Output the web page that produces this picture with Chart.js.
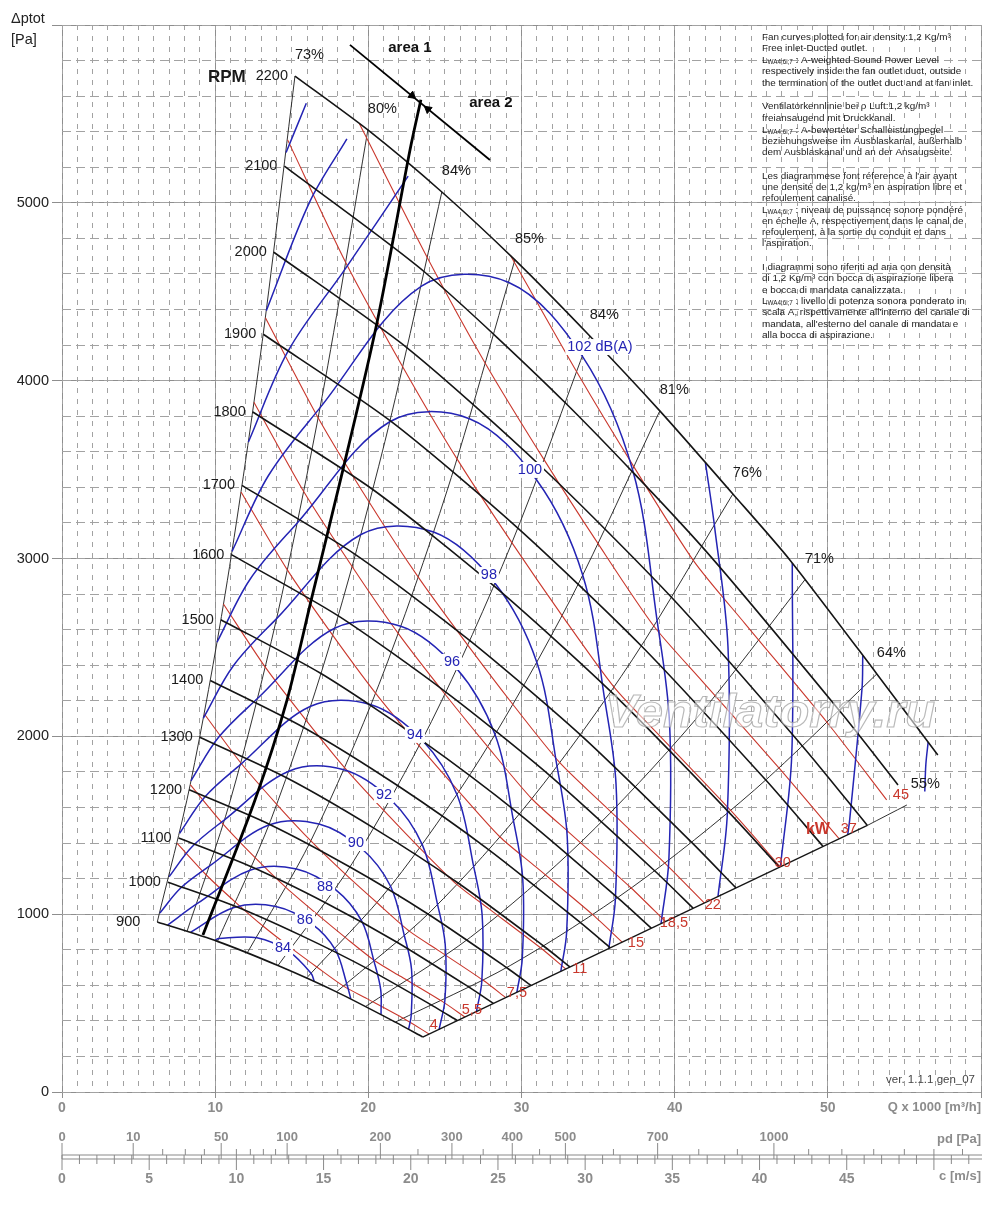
<!DOCTYPE html>
<html>
<head>
<meta charset="utf-8">
<title>Fan curves</title>
<script src="https://cdn.jsdelivr.net/npm/chart.js@4.4.1/dist/chart.umd.min.js"></script>
<style>
html,body{margin:0;padding:0;background:#ffffff;}
#wrap{position:relative;width:1000px;height:1219px;}
canvas{display:block;}
</style>
</head>
<body>
<div id="wrap"><canvas id="chart" width="1000" height="1219"></canvas></div>
<script>
// ---------- axis ranges and tick labels ----------
const qRange = [0, 60];          // Q x 1000 m3/h
const pRange = [0, 6000];        // Pa
const vRange = [0, 52.7];        // m/s
const pdTicks = [0, 10, 50, 100, 200, 300, 400, 500, 700, 1000];
const pdMinorTicks = [20, 30, 40, 60, 70, 80, 90, 150, 250, 350, 450, 600, 800, 900, 1100, 1200, 1300, 1400, 1500, 1600];
const vTicks = [0, 5, 10, 15, 20, 25, 30, 35, 40, 45];

// ---------- RPM curves [Q, dp] ----------
const rpmValues = [900, 1000, 1100, 1200, 1300, 1400, 1500, 1600, 1700, 1800, 1900, 2000, 2100, 2200];
const rpm900  = [[6.22,956],[10.15,847],[14.10,711],[17.92,563],[21.76,393],[23.55,309]];
const rpm1000 = [[6.91,1180],[11.27,1046],[15.66,878],[19.91,695],[24.18,486],[25.80,402]];
const rpm1100 = [[7.61,1428],[12.40,1265],[17.23,1063],[21.90,841],[26.60,588],[28.16,498]];
const rpm1200 = [[8.30,1700],[13.53,1506],[18.80,1265],[23.89,1001],[29.02,700],[30.62,599]];
const rpm1300 = [[8.99,1995],[14.66,1767],[20.36,1484],[25.88,1174],[31.44,821],[33.17,703]];
const rpm1400 = [[9.68,2314],[15.78,2050],[21.93,1722],[27.87,1362],[33.85,952],[35.79,811]];
const rpm1500 = [[10.37,2656],[16.91,2353],[23.50,1976],[29.86,1563],[36.27,1093],[38.48,921]];
const rpm1600 = [[11.06,3022],[18.04,2677],[25.06,2249],[31.85,1779],[38.69,1244],[41.21,1033]];
const rpm1700 = [[11.75,3411],[19.16,3022],[26.63,2538],[33.85,2008],[41.11,1404],[44.00,1148]];
const rpm1800 = [[12.45,3824],[20.29,3388],[28.20,2846],[35.84,2251],[43.53,1574],[46.83,1264]];
const rpm1900 = [[13.14,4261],[21.42,3775],[29.76,3171],[37.83,2508],[45.95,1754],[49.69,1381]];
const rpm2000 = [[13.83,4722],[22.55,4183],[31.33,3513],[39.82,2779],[48.36,1943],[52.58,1499]];
const rpm2100 = [[14.52,5206],[23.67,4611],[32.89,3873],[41.81,3064],[50.78,2142],[54.58,1727]];
const rpm2200 = [[15.21,5713],[19.97,5410],[24.80,5061],[29.57,4679],[34.46,4251],[39.03,3830],[43.80,3363],[47.52,2992],[53.20,2351],[57.18,1895]];
const rpmCurves = [rpm900, rpm1000, rpm1100, rpm1200, rpm1300, rpm1400, rpm1500, rpm1600, rpm1700, rpm1800, rpm1900, rpm2000, rpm2100, rpm2200];

// ---------- efficiency lines ----------
const effLabels = ['73%', '80%', '84%', '85%', '84%', '81%', '76%', '71%', '64%', '55%'];
const eff73  = [[6.22,956],[8.37,1728],[10.65,2799],[12.93,4128],[15.21,5713]];
const eff80  = [[8.17,905],[10.98,1637],[13.98,2651],[16.98,3909],[19.97,5410]];
const eff84a = [[10.15,847],[13.64,1531],[17.36,2480],[21.08,3657],[24.80,5061]];
const eff85  = [[12.10,783],[16.26,1415],[20.70,2293],[25.14,3381],[29.57,4679]];
const eff84b = [[14.10,711],[18.95,1286],[24.12,2083],[29.29,3071],[34.46,4251]];
const eff81  = [[15.97,641],[21.47,1159],[27.32,1877],[33.18,2767],[39.03,3830]];
const eff76  = [[17.92,563],[24.09,1017],[30.66,1648],[37.23,2430],[43.80,3363]];
const eff71  = [[19.84,482],[26.68,871],[33.95,1411],[41.23,2081],[48.50,2880]];
const eff64  = [[21.76,393],[29.26,711],[37.24,1152],[45.22,1699],[53.20,2351]];
const eff55  = [[52.58,1499],[55.16,1614]];
const effCurves = [eff73, eff80, eff84a, eff85, eff84b, eff81, eff76, eff71, eff64, eff55];
const boundary = [[23.55,309],[52.58,1499]];

// ---------- power lines (kW) ----------
const kwLabels = ['4', '5,5', '7,5', '11', '15', '18,5', '22', '30', '37', '45'];
const kw4   = [[7.52,1398],[9.47,1216],[11.37,1064],[13.18,929],[15.01,806],[16.68,700],[18.41,594],[19.91,525],[22.31,413],[23.97,326]];
const kw5_5 = [[8.37,1728],[10.53,1505],[12.64,1315],[14.65,1148],[16.69,997],[18.55,865],[20.47,735],[22.13,649],[24.80,511],[26.30,422]];
const kw7_5 = [[9.28,2127],[11.68,1850],[14.02,1618],[16.25,1412],[18.50,1225],[20.57,1064],[22.70,903],[24.54,798],[27.50,628],[28.96,531]];
const kw11  = [[10.54,2744],[13.27,2389],[15.94,2090],[18.46,1823],[21.02,1582],[23.36,1372],[25.79,1166],[27.88,1030],[31.24,811],[32.88,692]];
const kw15  = [[11.69,3374],[14.71,2936],[17.67,2569],[20.47,2243],[23.32,1946],[25.92,1689],[28.60,1434],[30.92,1267],[34.65,997],[36.57,843]];
const kw18_5= [[12.53,3879],[15.78,3377],[18.95,2954],[21.95,2579],[25.00,2238],[27.79,1942],[30.67,1649],[33.15,1456],[37.16,1147],[39.39,959]];
const kw22  = [[13.28,4354],[16.72,3792],[20.07,3315],[23.26,2895],[26.49,2513],[29.44,2179],[32.50,1852],[35.12,1634],[39.36,1287],[41.93,1063]];
const kw30  = [[14.73,5354],[18.54,4662],[22.26,4076],[25.79,3560],[29.37,3089],[32.65,2679],[36.04,2277],[38.95,2010],[43.66,1583],[46.89,1267]];
const kw37  = [[19.42,5445],[23.87,4689],[27.66,4094],[31.50,3552],[35.01,3082],[38.65,2619],[41.78,2312],[46.82,1821],[50.74,1424]];
const kw45  = [[29.30,4701],[33.62,4047],[37.37,3511],[41.26,2984],[44.59,2634],[49.98,2075],[53.84,1643]];
const kwCurves = [kw4, kw5_5, kw7_5, kw11, kw15, kw18_5, kw22, kw30, kw37, kw45];
const kwLabelAt = [[24.28,377],[26.76,461],[29.70,557],[33.81,692],[37.47,838],[39.95,950],[42.49,1052],[47.06,1288],[51.37,1479],[54.77,1670]];
const kwUnitAt = [49.35,1473];

// ---------- sound power lines dB(A) ----------
const dbLabels = ['84', '86', '88', '90', '92', '94', '96', '98', '100', '102 dB(A)'];
const db84  = [[9.98,852],[10.24,863],[12.73,867],[14.84,788],[16.27,666],[16.47,621]];
const db86  = [[8.40,899],[11.23,1038],[13.96,1043],[16.27,948],[17.84,800],[18.60,606],[18.85,525]];
const db88  = [[6.90,939],[8.84,1060],[12.32,1248],[15.31,1254],[17.84,1139],[19.56,962],[20.39,729],[20.81,574],[20.83,436]];
const db90  = [[6.39,1007],[7.75,1147],[9.69,1274],[13.50,1501],[16.78,1507],[19.56,1369],[21.45,1157],[22.36,876],[22.82,690],[22.80,432],[22.63,353]];
const db92  = [[7.00,1211],[8.49,1379],[10.63,1532],[14.81,1804],[18.40,1812],[21.44,1646],[23.52,1391],[24.52,1054],[25.02,829],[25.00,519],[24.62,351]];
const db94  = [[7.68,1455],[9.31,1658],[11.65,1841],[16.23,2169],[20.18,2178],[23.51,1979],[25.79,1672],[26.88,1267],[27.43,997],[27.41,624],[27.06,453]];
const db96  = [[8.42,1750],[10.21,1993],[12.78,2214],[17.80,2608],[22.12,2619],[25.78,2380],[28.27,2010],[29.48,1523],[30.08,1199],[30.05,750],[29.70,561]];
const db98  = [[9.23,2103],[11.19,2397],[14.01,2662],[19.52,3135],[24.26,3149],[28.27,2861],[31.00,2416],[32.32,1831],[32.98,1442],[32.95,902],[32.57,679]];
const db100 = [[10.12,2529],[12.27,2882],[15.36,3200],[21.40,3769],[26.60,3786],[31.00,3440],[34.00,2906],[35.44,2202],[36.17,1734],[36.13,1085],[35.70,807]];
const db102 = [[11.10,3040],[13.46,3464],[16.84,3847],[23.47,4531],[29.17,4552],[33.99,4135],[37.27,3493],[38.86,2647],[39.66,2084],[39.62,1304],[39.11,947]];
const db104a = [[12.17,3655],[14.76,4166],[18.47,4626],[22.60,5150]];
const db104b = [[42.01,3538],[42.60,3182],[43.48,2505],[43.44,1568],[42.83,1100]];
const db106a = [[13.34,4394],[16.18,5007],[18.60,5360]];
const db106b = [[47.68,2974],[47.64,1885],[46.91,1270]];
const db108a = [[14.63,5283],[15.95,5560]];
const db108b = [[52.28,2455],[52.23,2266],[51.43,1533],[51.30,1447]];
const db110  = [[56.55,1967],[56.40,1843],[56.33,1690]];
const dbCurves = [db84, db86, db88, db90, db92, db94, db96, db98, db100, db102, db104a, db104b, db106a, db106b, db108a, db108b, db110];
const dbLabelAt = [[14.43,810],[15.86,967],[17.17,1153],[19.19,1400],[21.02,1670],[23.04,2008],[25.46,2418],[27.87,2907],[30.55,3498],[35.12,4189]];

// ---------- area 1 / area 2 ----------
const areaDivider = [[9.20,883],[12.60,1642],[14.69,2204],[16.32,2784],[18.34,3498],[20.56,4324],[22.72,5297],[23.43,5580]];
const areaLine = [[18.80,5888],[27.94,5241]];
const areaArrows = [[22.85,5603],[23.89,5527]];
const areaArrowAngles = [129, 309];

// ---------- text block ----------
const notes = [
  ['Fan curves plotted for air density:1,2 Kg/m³', 37],
  ['Free inlet-Ducted outlet.', 48],
  ['§ : A-weighted Sound Power Level', 60],
  ['respectively inside the fan outlet duct, outside', 71],
  ['the termination of the outlet duct and at fan inlet.', 83],
  ['Ventilatorkennlinie bei ρ Luft:1,2 kg/m³', 106],
  ['freiansaugend mit Druckkanal.', 118],
  ['§ : A-bewerteter Schalleistungpegel', 130],
  ['beziehungsweise im Ausblaskanal, außerhalb', 141],
  ['dem Ausblaskanal und an der Ansaugseite.', 152],
  ['Les diagrammese font réference à l\'air ayant', 176],
  ['une densité de 1,2 kg/m³ en aspiration libre et', 187],
  ['refoulement canalisé.', 198],
  ['§ : niveau de puissance sonore pondéré', 210],
  ['en échelle A, respectivement dans le canal de', 221],
  ['refoulement, à la sortie du conduit et dans', 232],
  ['l\'aspiration.', 243],
  ['I diagrammi sono riferiti ad aria con densità', 267],
  ['di 1,2 Kg/m³ con bocca di aspirazione libera', 278],
  ['e bocca di mandata canalizzata.', 290],
  ['§ : livello di potenza sonora ponderato in', 301],
  ['scala A, rispettivamente all\'interno del canale di', 312],
  ['mandata, all\'esterno del canale di mandata e', 324],
  ['alla bocca di aspirazione.', 335]
];

// ---------- styles ----------
const FONT = '"Liberation Sans", Arial, Helvetica, sans-serif';
const C_BLACK = '#151515', C_EFF = '#262626', C_RED = '#c9372c', C_BLUE = '#2424b4';
const C_GRID = '#8e8e8e', C_MINOR = '#a2a2a2', C_AXIS = '#8c8c8c';

function pts(a) { return a.map(p => ({ x: p[0], y: p[1] })); }
function line(a, color, width, order, tension) {
  return { data: pts(a), showLine: true, borderColor: color, backgroundColor: color,
    borderWidth: width, pointRadius: 0, pointHoverRadius: 0, tension: tension, order: order, fill: false };
}

const datasets = [];
rpmCurves.forEach(c => datasets.push(line(c, C_BLACK, 1.6, 1, 0.25)));
datasets.push(line(boundary, C_BLACK, 1.3, 1, 0));
dbCurves.forEach(c => datasets.push(line(c, C_BLUE, 1.5, 2, 0.35)));
kwCurves.forEach(c => datasets.push(line(c, C_RED, 1.1, 3, 0.25)));
effCurves.forEach(c => datasets.push(line(c, C_EFF, 0.95, 4, 0.3)));
datasets.push(line(areaDivider, '#000', 2.8, 0, 0.3));
datasets.push(line(areaLine, '#000', 1.8, 0, 0));
datasets.push({ data: pts(areaArrows), showLine: false, pointStyle: 'triangle', pointRadius: 4.5,
  rotation: areaArrowAngles, backgroundColor: '#000', borderColor: '#000', borderWidth: 1, order: 0 });

function lineSeg(ctx, x1, y1, x2, y2) { ctx.beginPath(); ctx.moveTo(x1, y1); ctx.lineTo(x2, y2); ctx.stroke(); }

const overlay = {
  id: 'overlay',
  afterDatasetsDraw(chart) {
    const ctx = chart.ctx, ca = chart.chartArea;
    const xs = chart.scales.x, ys = chart.scales.y;
    const X = v => xs.getPixelForValue(v), Y = v => ys.getPixelForValue(v);
    ctx.save();

    // watermark
    ctx.font = 'italic bold 46px ' + FONT;
    const wm = 'Ventilatorry.ru';
    const ww = ctx.measureText(wm).width;
    ctx.save();
    ctx.translate(ca.left + 543, ca.top + 702);
    ctx.scale(330 / ww, 1);
    ctx.textAlign = 'left'; ctx.textBaseline = 'alphabetic';
    ctx.fillStyle = 'rgba(255,255,255,0.55)';
    ctx.fillText(wm, 0, 0);
    ctx.strokeStyle = 'rgba(160,160,160,0.75)';
    ctx.lineWidth = 1.1;
    ctx.strokeText(wm, 0, 0);
    ctx.restore();

    ctx.textBaseline = 'middle';
    // RPM labels
    ctx.font = '14.5px ' + FONT;
    ctx.fillStyle = '#1a1a1a';
    ctx.textAlign = 'right';
    rpmCurves.forEach((c, i) => {
      const gap = rpmValues[i] === 900 ? 17 : 7;
      ctx.fillText(String(rpmValues[i]), X(c[0][0]) - gap, Y(c[0][1]));
    });
    const lw2200 = ctx.measureText('2200').width;
    ctx.font = 'bold 17px ' + FONT;
    ctx.fillText('RPM', X(rpm2200[0][0]) - 7 - lw2200 - 10, Y(rpm2200[0][1]) + 1);

    // efficiency labels
    ctx.font = '14.5px ' + FONT;
    ctx.textAlign = 'left';
    effCurves.forEach((c, i) => {
      const e = c[c.length - 1];
      const dx = i === effCurves.length - 1 ? 4 : 0;
      ctx.fillText(effLabels[i], X(e[0]) + dx, Y(e[1]) - 21);
    });

    // kW labels
    ctx.fillStyle = C_RED;
    ctx.textAlign = 'center';
    kwLabelAt.forEach((p, i) => ctx.fillText(kwLabels[i], X(p[0]), Y(p[1])));
    ctx.font = 'bold 16px ' + FONT;
    ctx.fillText('kW', X(kwUnitAt[0]), Y(kwUnitAt[1]));

    // dB labels with white gap
    ctx.font = '14.5px ' + FONT;
    dbLabelAt.forEach((p, i) => {
      const w = ctx.measureText(dbLabels[i]).width;
      const cx = X(p[0]), cy = Y(p[1]);
      ctx.fillStyle = '#ffffff';
      ctx.fillRect(cx - w / 2 - 2, cy - 8, w + 4, 16);
      ctx.fillStyle = C_BLUE;
      ctx.fillText(dbLabels[i], cx, cy);
    });

    // area labels
    ctx.fillStyle = '#111';
    ctx.font = 'bold 15px ' + FONT;
    ctx.fillText('area 1', X(areaLine[0][0]) + 60, Y(areaLine[0][1]) + 3);
    ctx.fillText('area 2', X(areaLine[1][0]) + 1, Y(areaLine[1][1]) - 57);

    // text block
    ctx.textAlign = 'left';
    ctx.fillStyle = '#222';
    const tx = ca.left + 700;
    notes.forEach(n => {
      const ty = ca.top + n[1] - 25;
      ctx.font = '9.9px ' + FONT;
      let s = n[0];
      let x = tx;
      if (s.startsWith('§')) {
        ctx.fillText('L', x, ty);
        x += ctx.measureText('L').width;
        ctx.font = '6.3px ' + FONT;
        ctx.fillText('WA4;6i;7', x, ty + 2.5);
        x += ctx.measureText('WA4;6i;7').width;
        ctx.font = '9.9px ' + FONT;
        s = s.slice(1);
      }
      ctx.fillText(s, x, ty);
    });

    // version
    ctx.font = '11.5px ' + FONT;
    ctx.fillStyle = '#444';
    ctx.textAlign = 'right';
    ctx.fillText('ver. 1.1.1 gen_07', ca.right - 6, ca.bottom - 12);
    ctx.restore();
  },
  afterDraw(chart) {
    const ctx = chart.ctx, ca = chart.chartArea;
    const x2 = chart.scales.x2, x3 = chart.scales.x3;
    ctx.save();
    // y axis title
    ctx.fillStyle = '#222';
    ctx.font = '14.5px ' + FONT;
    ctx.textAlign = 'left';
    ctx.textBaseline = 'middle';
    ctx.fillText('Δptot', 11, 19);
    ctx.fillText('[Pa]', 11, 40);

    // double line with pd / velocity ticks
    const yA = x3.top - 1, yB = x3.top + 3;
    ctx.strokeStyle = '#8a8a8a';
    ctx.lineWidth = 1.2;
    lineSeg(ctx, ca.left, yA, ca.right + 1, yA);
    lineSeg(ctx, ca.left, yB, ca.right + 1, yB);
    ctx.lineWidth = 1;
    pdTicks.forEach(p => {
      const x = x2.getPixelForValue(Math.sqrt(p / 0.6));
      lineSeg(ctx, x, yA - 12, x, yB);
    });
    pdMinorTicks.forEach(p => {
      const v = Math.sqrt(p / 0.6);
      if (v <= vRange[1]) { const x = x2.getPixelForValue(v); lineSeg(ctx, x, yA - 6, x, yA); }
    });
    for (let v = 0; v <= 52; v++) {
      const x = x3.getPixelForValue(v);
      lineSeg(ctx, x, yA, x, yB + (v % 5 === 0 ? 11 : 5));
    }
    // unit labels
    ctx.fillStyle = C_AXIS;
    ctx.font = 'bold 13px ' + FONT;
    ctx.textAlign = 'right';
    ctx.fillText('Q x 1000 [m³/h]', ca.right, ca.bottom + 15);
    ctx.fillText('pd [Pa]', ca.right, yA - 16);
    ctx.fillText('c [m/s]', ca.right, yB + 17);
    ctx.restore();
  }
};

new Chart(document.getElementById('chart'), {
  type: 'scatter',
  data: { datasets: datasets },
  options: {
    responsive: false,
    animation: false,
    events: [],
    layout: { padding: { top: 25, right: 19, bottom: 23, left: 0 } },
    plugins: { legend: { display: false }, tooltip: { enabled: false } },
    elements: { point: { radius: 0 } },
    scales: {
      x: {
        type: 'linear', position: 'bottom', weight: 0,
        min: qRange[0], max: qRange[1],
        afterFit: s => { s.height = 22; },
        ticks: { stepSize: 10, autoSkip: false, maxRotation: 0, padding: 2, color: C_AXIS,
          font: { family: FONT, size: 14, weight: 'bold' },
          callback: v => (v >= qRange[1] ? '' : String(v)) },
        grid: { color: C_GRID, lineWidth: 1, tickLength: 6, tickColor: C_GRID },
        border: { display: false }
      },
      xm: {
        type: 'linear', position: 'bottom', weight: -1,
        min: qRange[0], max: qRange[1],
        afterFit: s => { s.height = 0; },
        ticks: { stepSize: 1, display: false, autoSkip: false },
        grid: { color: C_MINOR, lineWidth: 1, drawTicks: false },
        border: { display: false, dash: [5, 6] }
      },
      x2: {
        type: 'linear', position: 'bottom', weight: 1,
        min: vRange[0], max: vRange[1],
        afterFit: s => { s.height = 42; },
        afterBuildTicks: s => { s.ticks = pdTicks.map(p => ({ value: Math.sqrt(p / 0.6) })); },
        ticks: { autoSkip: false, maxRotation: 0, padding: 16, color: C_AXIS,
          font: { family: FONT, size: 13, weight: 'bold' },
          callback: (v, i) => String(pdTicks[i]) },
        grid: { display: false, drawTicks: false, drawOnChartArea: false },
        border: { display: false }
      },
      x3: {
        type: 'linear', position: 'bottom', weight: 2,
        min: vRange[0], max: vRange[1],
        afterFit: s => { s.height = 40; },
        afterBuildTicks: s => { s.ticks = vTicks.map(v => ({ value: v })); },
        ticks: { autoSkip: false, maxRotation: 0, padding: 15, color: C_AXIS,
          font: { family: FONT, size: 14, weight: 'bold' },
          callback: (v, i) => String(vTicks[i]) },
        grid: { display: false, drawTicks: false, drawOnChartArea: false },
        border: { display: false }
      },
      y: {
        type: 'linear', position: 'left', weight: 0,
        min: pRange[0], max: pRange[1],
        afterFit: s => { s.width = 62; },
        ticks: { stepSize: 1000, padding: 3, color: '#222',
          font: { family: FONT, size: 14.5 },
          callback: v => (v >= pRange[1] ? '' : String(v)) },
        grid: { color: C_GRID, lineWidth: 1, tickLength: 10, tickColor: C_GRID },
        border: { display: false }
      },
      ym: {
        type: 'linear', position: 'left', weight: -1,
        min: pRange[0], max: pRange[1],
        afterFit: s => { s.width = 0; },
        ticks: { stepSize: 200, display: false },
        grid: { color: C_MINOR, lineWidth: 1, drawTicks: false },
        border: { display: false, dash: [9, 5] }
      }
    }
  },
  plugins: [overlay]
});
</script>
</body>
</html>
